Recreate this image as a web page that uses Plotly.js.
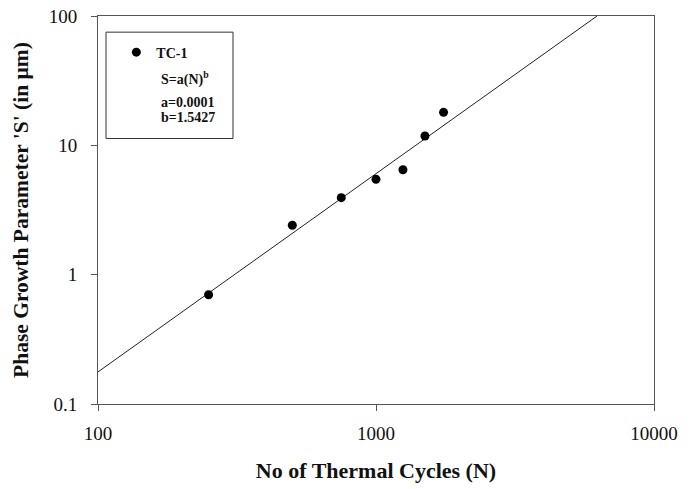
<!DOCTYPE html>
<html>
<head>
<meta charset="utf-8">
<script src="https://cdn.plot.ly/plotly-3.0.1.min.js"></script>
<style>html,body{margin:0;padding:0;background:#fff}#chart{width:696px;height:489px}</style>
</head>
<body>
<div id="chart"></div>
<script>
// Measured data (TC-1)
var cycles = [250, 500, 750, 1000, 1250, 1500, 1750];
var growthS = [0.70, 2.41, 3.94, 5.46, 6.47, 11.8, 18.0];
// Fitted power-law line, endpoints
var fitX = [100, 6240];
var fitY = [0.177, 100];
// Legend / equation text
var seriesName = 'TC-1';
var eqLines = ['S=a(N)<sup>b</sup>', 'a=0.0001', 'b=1.5427'];
var xTicks = [100, 1000, 10000];
var yTicks = [0.1, 1, 10, 100];

var serif = 'Liberation Serif, Times New Roman, serif';
var axisCommon = {
  type: 'log', showgrid: false, zeroline: false,
  showline: true, mirror: true, linecolor: '#555', linewidth: 1,
  ticks: 'outside', ticklen: 6, tickcolor: '#555', tickwidth: 1,
  tickfont: {family: serif, size: 19, color: '#111'}
};

var traces = [
  {x: fitX, y: fitY, mode: 'lines', line: {color: '#222', width: 1}, showlegend: false, hoverinfo: 'skip'},
  {x: cycles, y: growthS, mode: 'markers', name: seriesName,
   marker: {symbol: 'circle', size: 9, color: '#000'}}
];

var layout = {
  width: 696, height: 489,
  margin: {l: 98, r: 42, t: 15.5, b: 84.5},
  paper_bgcolor: '#fff', plot_bgcolor: '#fff',
  font: {family: serif, color: '#111'},
  xaxis: Object.assign({}, axisCommon, {
    range: [2, 4], tickvals: xTicks, ticktext: xTicks.map(String), ticklabelstandoff: 6,
    title: {text: '<b>No of Thermal Cycles (N)</b>', font: {family: serif, size: 22, color: '#111'}, standoff: 19}
  }),
  yaxis: Object.assign({}, axisCommon, {
    range: [-1, 2], tickvals: yTicks, ticktext: yTicks.map(String), ticklabelstandoff: 10,
    title: {text: "<b>Phase Growth Parameter 'S' (in µm)</b>", font: {family: serif, size: 21.5, color: '#111'}, standoff: 14}
  }),
  showlegend: true,
  legend: {x: 0.033, xanchor: 'left', y: 0.947, yanchor: 'top', bgcolor: 'rgba(0,0,0,0)',
    font: {family: serif, size: 14, color: '#111', weight: 'bold'}, itemwidth: 30},
  shapes: [{type: 'rect', xref: 'paper', yref: 'paper', x0: 0.0144, x1: 0.2428, y0: 0.6843, y1: 0.9584,
    line: {color: '#333', width: 1}, fillcolor: 'rgba(0,0,0,0)'}],
  annotations: eqLines.map(function (t, i) {
    var ys = [0.839, 0.778, 0.739];
    return {xref: 'paper', yref: 'paper', x: 0.11, y: ys[i], xanchor: 'left', yanchor: 'middle',
      text: '<b>' + t + '</b>', showarrow: false, font: {family: serif, size: 14, color: '#111'}};
  })
};

Plotly.newPlot('chart', traces, layout, {displayModeBar: false, staticPlot: true});
</script>
</body>
</html>
